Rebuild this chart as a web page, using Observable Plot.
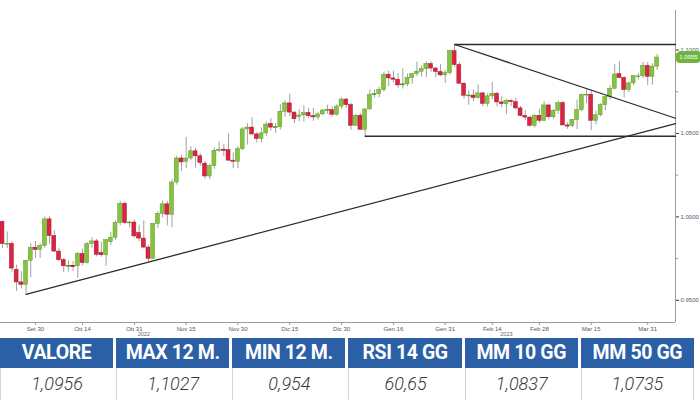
<!DOCTYPE html>
<html>
<head>
<meta charset="utf-8">
<script src="https://cdn.jsdelivr.net/npm/d3@7"></script>
<script src="https://cdn.jsdelivr.net/npm/@observablehq/plot@0.6"></script>
<style>
  html, body { margin: 0; padding: 0; background: #fff; }
  #wrap { width: 700px; height: 400px; overflow: hidden; position: relative; }
  #chart svg { display: block; }
  .tbl { display: grid; grid-template-columns: repeat(6, 1fr); column-gap: 3px; width: 694px; }
  .hd { background: #2b5fa6; color: #fff; font-family: Roboto, "Liberation Sans", sans-serif; font-weight: 700;
        font-size: 19.5px; height: 30px; line-height: 30px; text-align: center; letter-spacing: -0.4px; }
  .vl { font-family: Roboto, "Liberation Sans", sans-serif; font-style: italic; font-weight: 300; color: #3a3a3a;
        font-size: 18px; height: 32px; line-height: 32px; text-align: center; border-left: 1px solid #d4d4d4; }
  .vl.last { border-right: 1px solid #d4d4d4; }
</style>
</head>
<body>
<div id="wrap">
  <div id="chart"></div>
  <div class="tbl" id="hdr"></div>
  <div class="tbl" id="vals"></div>
</div>
<script>
// EUR/USD daily candles, one per weekday from 21 Sep 2022 to 4 Apr 2023 (index = trading day)
const open = [0.9970,0.9837,0.9838,0.9683,0.9607,0.9593,0.9737,0.9815,0.9802,0.9826,
  0.9985,0.9885,0.9792,0.9741,0.9704,0.9705,0.9704,0.9778,0.9723,0.9838,
  0.9853,0.9784,0.9770,0.9848,0.9875,0.9964,1.0078,0.9963,0.9966,0.9903,
  0.9870,0.9816,0.9749,0.9958,1.0018,1.0075,1.0013,1.0206,1.0350,1.0330,
  1.0350,1.0393,1.0363,1.0319,1.0242,1.0304,1.0396,1.0403,1.0400,1.0337,
  1.0330,1.0406,1.0524,1.0535,1.0494,1.0467,1.0500,1.0557,1.0535,1.0538,
  1.0630,1.0680,1.0625,1.0598,1.0608,1.0622,1.0604,1.0596,1.0614,1.0637,
  1.0640,1.0612,1.0661,1.0703,1.0670,1.0546,1.0606,1.0522,1.0644,1.0731,
  1.0736,1.0760,1.0852,1.0830,1.0822,1.0788,1.0794,1.0832,1.0855,1.0870,
  1.0885,1.0916,1.0889,1.0868,1.0848,1.0862,1.0993,1.0910,1.0798,1.0726,
  1.0727,1.0712,1.0740,1.0677,1.0722,1.0738,1.0686,1.0676,1.0695,1.0688,
  1.0650,1.0605,1.0595,1.0546,1.0606,1.0576,1.0668,1.0597,1.0636,1.0681,
  1.0548,1.0546,1.0581,1.0640,1.0730,1.0732,1.0576,1.0609,1.0670,1.0718,
  1.0768,1.0855,1.0832,1.0760,1.0800,1.0843,1.0843,1.0905,1.0839,1.0900];
const high = [0.9976,0.9910,0.9852,0.9711,0.9671,0.9740,0.9839,0.9853,0.9840,0.9999,
  1.0000,0.9917,0.9810,0.9750,0.9738,0.9733,0.9786,0.9806,0.9845,0.9875,
  0.9866,0.9848,0.9865,0.9908,0.9976,1.0093,1.0088,0.9974,0.9981,0.9950,
  0.9976,0.9830,0.9961,1.0030,1.0095,1.0093,1.0224,1.0364,1.0369,1.0476,
  1.0420,1.0410,1.0379,1.0332,1.0316,1.0413,1.0449,1.0433,1.0497,1.0384,
  1.0420,1.0535,1.0560,1.0594,1.0505,1.0532,1.0568,1.0588,1.0560,1.0673,
  1.0695,1.0736,1.0630,1.0640,1.0666,1.0650,1.0650,1.0628,1.0645,1.0669,
  1.0660,1.0672,1.0714,1.0711,1.0681,1.0614,1.0620,1.0648,1.0760,1.0760,
  1.0777,1.0868,1.0874,1.0874,1.0860,1.0887,1.0855,1.0860,1.0927,1.0905,
  1.0930,1.0929,1.0897,1.0914,1.0876,1.1000,1.1033,1.0925,1.0806,1.0755,
  1.0760,1.0790,1.0746,1.0738,1.0805,1.0745,1.0720,1.0705,1.0703,1.0711,
  1.0662,1.0640,1.0603,1.0614,1.0645,1.0691,1.0670,1.0642,1.0694,1.0694,
  1.0566,1.0586,1.0700,1.0738,1.0760,1.0760,1.0635,1.0678,1.0723,1.0787,
  1.0912,1.0930,1.0840,1.0808,1.0848,1.0860,1.0926,1.0925,1.0918,1.0973];
const low = [0.9810,0.9810,0.9668,0.9553,0.9569,0.9536,0.9635,0.9750,0.9752,0.9812,
  0.9835,0.9786,0.9731,0.9668,0.9669,0.9673,0.9632,0.9706,0.9718,0.9813,
  0.9761,0.9758,0.9705,0.9827,0.9860,0.9947,0.9954,0.9933,0.9873,0.9851,
  0.9810,0.9730,0.9746,0.9930,0.9994,0.9946,0.9935,1.0190,1.0272,1.0290,
  1.0338,1.0291,1.0304,1.0225,1.0224,1.0285,1.0385,1.0360,1.0331,1.0290,
  1.0290,1.0395,1.0430,1.0485,1.0443,1.0443,1.0480,1.0515,1.0500,1.0520,
  1.0596,1.0601,1.0560,1.0570,1.0570,1.0590,1.0573,1.0580,1.0607,1.0615,
  1.0598,1.0604,1.0643,1.0650,1.0519,1.0544,1.0521,1.0483,1.0640,1.0712,
  1.0714,1.0748,1.0780,1.0803,1.0770,1.0766,1.0780,1.0795,1.0840,1.0838,
  1.0835,1.0867,1.0835,1.0840,1.0800,1.0850,1.0896,1.0796,1.0706,1.0669,
  1.0690,1.0705,1.0660,1.0659,1.0700,1.0659,1.0655,1.0613,1.0660,1.0640,
  1.0600,1.0577,1.0536,1.0533,1.0560,1.0572,1.0580,1.0585,1.0615,1.0545,
  1.0525,1.0535,1.0523,1.0630,1.0680,1.0516,1.0550,1.0600,1.0635,1.0700,
  1.0760,1.0830,1.0713,1.0745,1.0785,1.0820,1.0830,1.0788,1.0790,1.0877];
const close = [0.9837,0.9838,0.9690,0.9607,0.9593,0.9737,0.9815,0.9802,0.9826,0.9985,
  0.9885,0.9792,0.9741,0.9704,0.9705,0.9704,0.9778,0.9723,0.9838,0.9853,
  0.9773,0.9770,0.9861,0.9875,0.9964,1.0078,0.9963,0.9966,0.9883,0.9870,
  0.9816,0.9749,0.9958,1.0018,1.0075,1.0013,1.0206,1.0350,1.0326,1.0350,
  1.0393,1.0363,1.0323,1.0242,1.0304,1.0396,1.0403,1.0395,1.0337,1.0330,
  1.0406,1.0524,1.0535,1.0494,1.0467,1.0500,1.0553,1.0535,1.0538,1.0630,
  1.0680,1.0625,1.0585,1.0608,1.0622,1.0604,1.0596,1.0614,1.0637,1.0640,
  1.0612,1.0661,1.0703,1.0670,1.0546,1.0606,1.0522,1.0644,1.0731,1.0736,
  1.0760,1.0852,1.0830,1.0822,1.0788,1.0794,1.0832,1.0855,1.0870,1.0885,
  1.0916,1.0889,1.0868,1.0848,1.0862,1.0993,1.0910,1.0798,1.0726,1.0727,
  1.0712,1.0740,1.0677,1.0722,1.0738,1.0686,1.0676,1.0695,1.0688,1.0650,
  1.0605,1.0595,1.0546,1.0606,1.0576,1.0668,1.0597,1.0636,1.0681,1.0548,
  1.0546,1.0581,1.0640,1.0730,1.0732,1.0576,1.0609,1.0670,1.0718,1.0768,
  1.0853,1.0832,1.0760,1.0800,1.0843,1.0843,1.0905,1.0839,1.0900,1.0955];

// x-axis tick labels (trading-day index) and year labels
const tickIdx    = [7, 17, 28, 39, 50, 61, 72, 83, 94, 104, 114, 125, 137];
const tickLabels = ["Set 30","Ott 14","Ott 31","Nov 15","Nov 30","Dic 15","Dic 30","Gen 16","Gen 31","Feb 14","Feb 28","Mar 15","Mar 31"];
const yearIdx    = [30, 107];
const yearLabels = ["2022", "2023"];

// right axis
const yTicks      = [0.95, 1.00, 1.05, 1.10];
const yMinorTicks = [0.975, 1.025, 1.075];
const lastPrice   = 1.0955;

// drawn analysis lines: start index, start price, end price (at right edge)
const supportLine    = {i0: 5,  p0: 0.9536, p1: 1.0559};
const resistanceLine = {i0: 96, p0: 1.1033, p1: 1.0591};
const topLevel       = {i0: 96, p: 1.1033};
const bottomLevel    = {i0: 77, p: 1.0483};

// table
const tableHeaders = ["VALORE", "MAX 12 M.", "MIN 12 M.", "RSI 14 GG", "MM 10 GG", "MM 50 GG"];
const tableValues  = ["1,0956", "1,1027", "0,954", "60,65", "1,0837", "1,0735"];

const xDomain = [-0.42, 142.9];
const yDomain = [0.93669, 1.12368];
const GREEN = "#86c440", GREEN_EDGE = "#5f9a2c", RED = "#dc2342", RED_EDGE = "#a3182f";

const data = open.map((o, i) => ({i, o, h: high[i], l: low[i], c: close[i]}));
const doji = data.filter(d => Math.abs(d.o - d.c) < 0.0006);
const lineSeg = (l) => [{i: l.i0, p: l.p0}, {i: xDomain[1], p: l.p1}];
const levelSeg = (l) => [{i: l.i0, p: l.p}, {i: xDomain[1], p: l.p}];
const tickMap = new Map(tickIdx.map((t, k) => [t, tickLabels[k]]));
const years = yearIdx.map((t, k) => ({i: t, label: yearLabels[k]}));

const chart = Plot.plot({
  width: 700, height: 338,
  marginLeft: 0, marginRight: 25, marginTop: 10, marginBottom: 16,
  style: {fontFamily: "'Liberation Sans', Arial, sans-serif", background: "#fff"},
  x: {type: "linear", domain: xDomain, label: null},
  y: {domain: yDomain, label: null},
  marks: [
    Plot.ruleY([yDomain[0]], {stroke: "#9c9c9c", strokeWidth: 1}),
    Plot.ruleX([xDomain[1]], {stroke: "#9c9c9c", strokeWidth: 1}),
    Plot.axisY(yTicks, {anchor: "right", tickSize: 3, tickPadding: 2, fontSize: 6, fill: "#555", stroke: "#333",
      tickFormat: d => d.toFixed(4), label: null}),
    Plot.axisY(yMinorTicks, {anchor: "right", tickSize: 2, tickFormat: () => "", stroke: "#999", label: null}),
    Plot.axisX(tickIdx, {anchor: "bottom", tickSize: 3, tickPadding: 1, fontSize: 6, fill: "#555", stroke: "#999",
      tickFormat: d => tickMap.get(d), label: null}),
    Plot.text(years, {x: "i", y: yDomain[0], text: "label", dy: 12, fontSize: 5.5, fill: "#666"}),
    // candles
    Plot.ruleX(data, {x: "i", y1: "l", y2: "h", stroke: "#a0a0a0", strokeWidth: 1}),
    Plot.rect(data, {x1: d => d.i - 0.42, x2: d => d.i + 0.42, y1: "o", y2: "c",
      fill: d => d.c >= d.o ? GREEN : RED, stroke: d => d.c >= d.o ? GREEN_EDGE : RED_EDGE, strokeWidth: 0.5}),
    Plot.ruleY(doji, {y: "c", x1: d => d.i - 0.45, x2: d => d.i + 0.45,
      stroke: d => d.c >= d.o ? GREEN_EDGE : RED_EDGE, strokeWidth: 1.2}),
    // analysis lines
    Plot.line(lineSeg(supportLine), {x: "i", y: "p", stroke: "#2b2b2b", strokeWidth: 1.3}),
    Plot.line(lineSeg(resistanceLine), {x: "i", y: "p", stroke: "#2b2b2b", strokeWidth: 1.3}),
    Plot.line(levelSeg(topLevel), {x: "i", y: "p", stroke: "#2b2b2b", strokeWidth: 1.3}),
    Plot.line(levelSeg(bottomLevel), {x: "i", y: "p", stroke: "#2b2b2b", strokeWidth: 1.3}),
    // last price tag
    Plot.text([lastPrice], {x: xDomain[1], y: d => d, text: d => d.toFixed(4), dx: 13, fontSize: 6,
      fill: "#fff", stroke: "#6db33f", strokeWidth: 8, strokeLinejoin: "round", paintOrder: "stroke"})
  ]
});
document.getElementById("chart").appendChild(chart);

const hdr = document.getElementById("hdr");
const vals = document.getElementById("vals");
tableHeaders.forEach(h => { const d = document.createElement("div"); d.className = "hd"; d.textContent = h; hdr.appendChild(d); });
tableValues.forEach((v, k) => { const d = document.createElement("div"); d.className = "vl" + (k === tableValues.length - 1 ? " last" : ""); d.textContent = v; vals.appendChild(d); });
</script>
</body>
</html>
